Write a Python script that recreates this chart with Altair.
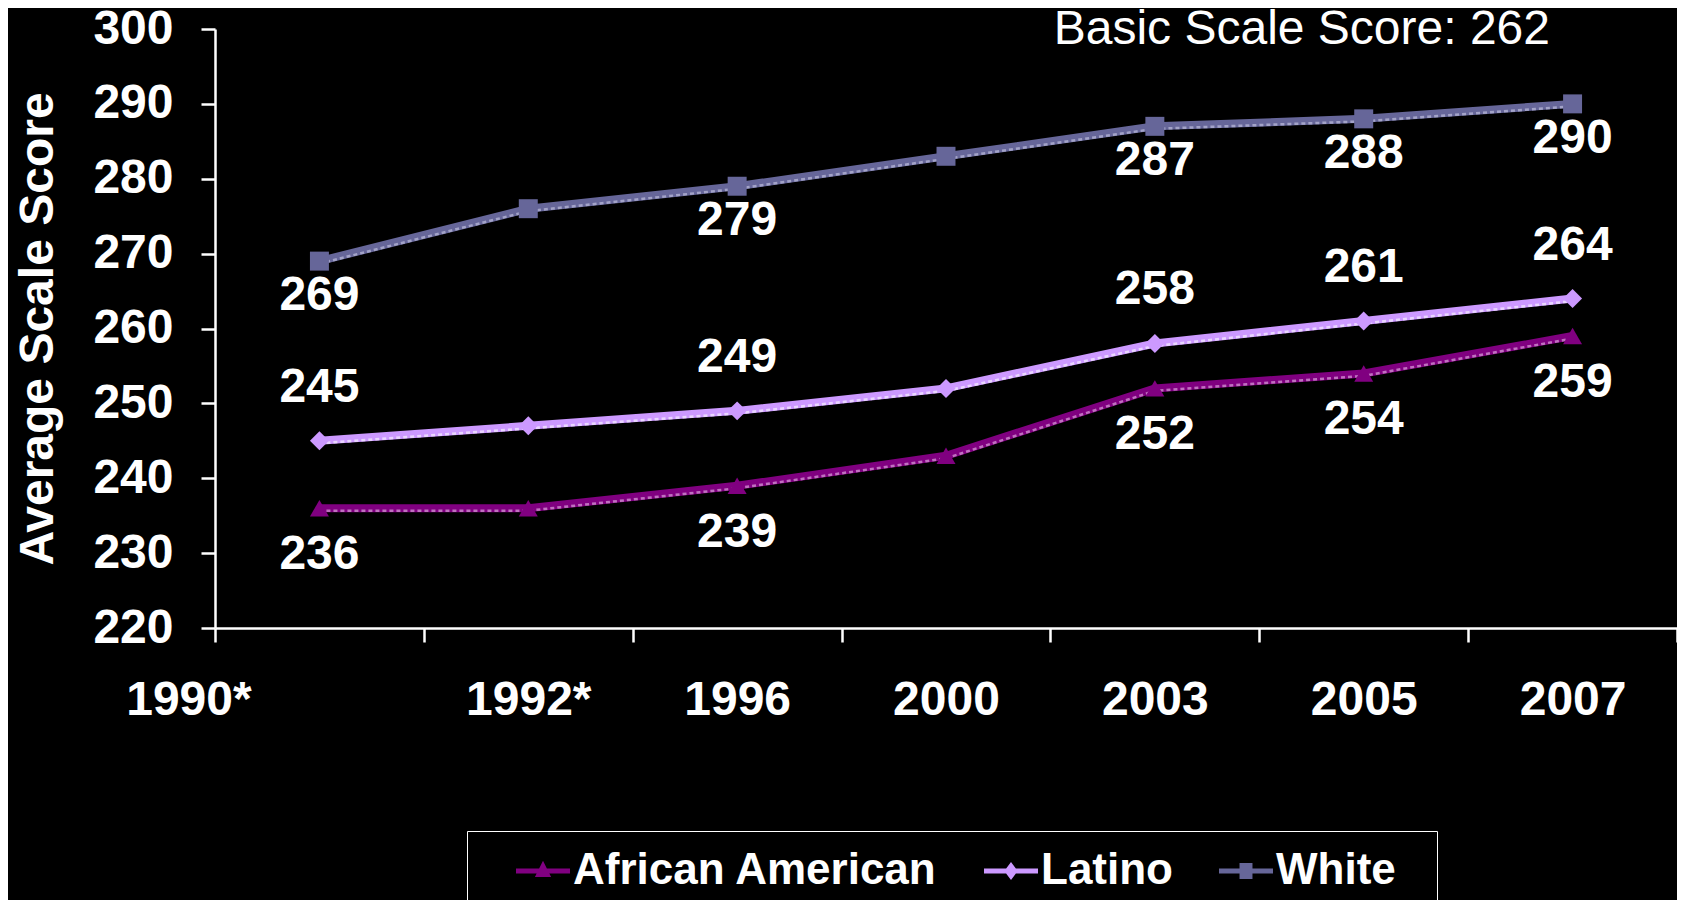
import altair as alt
import pandas as pd

# ---- data ----
years = ["1990*", "1992*", "1996", "2000", "2003", "2005", "2007"]
series = ["African American", "Latino", "White"]
african_american = [236, 236, 239, 243, 252, 254, 259]
latino = [245, 247, 249, 252, 258, 261, 264]
white = [269, 276, 279, 283, 287, 288, 290]
labeled = [True, False, True, False, True, True, True]
colors = ["#800080", "#CC99FF", "#666699"]
highlight_colors = ["#C070C0", "#EAD6FF", "#A3A3C8"]
y_ticks = [220, 230, 240, 250, 260, 270, 280, 290, 300]
note = ["Basic Scale Score: 262"]

rows = []
for s, vals in zip(series, [african_american, latino, white]):
    for yr, v, lab in zip(years, vals, labeled):
        rows.append({"year": yr, "series": s, "marker": s, "score": v, "show": lab})
df = pd.DataFrame(rows)

FONT = "Liberation Sans"
FS = 48

color_scale = alt.Scale(domain=series, range=colors)

x = alt.X(
    "year:N",
    sort=years,
    scale=alt.Scale(domain=years, paddingInner=0, paddingOuter=0),
    axis=alt.Axis(
        title=None, labelAngle=0, tickBand="extent", tickSize=14, tickWidth=2.5,
        tickColor="white", domainColor="white", domainWidth=2.5,
        labelFont=FONT, labelFontSize=FS, labelFontWeight="bold", labelColor="white",
        labelPadding=58, labelBaseline="middle", labelOverlap=False,
        labelOffset={"condition": {"test": "datum.label == '1990*'", "value": -131}, "value": 0},
    ),
)
y = alt.Y(
    "score:Q",
    scale=alt.Scale(domain=[220, 300], nice=False, zero=False),
    axis=alt.Axis(
        values=y_ticks, grid=False, tickSize=14, tickWidth=2.5, tickColor="white",
        domainColor="white", domainWidth=2.5,
        labelFont=FONT, labelFontSize=FS, labelFontWeight="bold", labelColor="white",
        labelPadding=28,
        title="Average Scale Score", titleFont=FONT, titleFontSize=FS,
        titleFontWeight="bold", titleColor="white", titlePadding=30,
    ),
)

base = alt.Chart(df)

lines = base.mark_line(strokeWidth=8).encode(
    x=x, y=y, color=alt.Color("series:N", scale=color_scale, legend=None)
)

# lighter dashed sheen along the lower edge of each line
sheen = base.mark_line(strokeWidth=2.5, strokeDash=[4, 3], yOffset=2.5).encode(
    x=x, y=y,
    color=alt.Color("marker:N", scale=alt.Scale(domain=series, range=highlight_colors), legend=None),
)

points = base.mark_point(filled=True, size=360, opacity=1).encode(
    x=x, y=y,
    color=alt.Color("series:N", scale=color_scale, legend=None),
    shape=alt.Shape("marker:N", scale=alt.Scale(domain=series, range=["triangle-up", "diamond", "square"]), legend=None),
)

def labels(name, dy):
    return base.transform_filter(
        (alt.datum.series == name) & (alt.datum.show == True)
    ).mark_text(
        font=FONT, fontSize=FS, fontWeight="bold", color="white", baseline="middle", dy=dy
    ).encode(x=x, y=y, text=alt.Text("score:Q"))

lab_aa = labels("African American", 47)
lab_la = labels("Latino", -53)
lab_wh = labels("White", 35)

# annotation in the top-right corner
note_layer = alt.Chart(pd.DataFrame({"note": note})).mark_text(
    align="right", baseline="alphabetic", font=FONT, fontSize=48, color="white"
).encode(text="note:N", x=alt.value(1335), y=alt.value(15))

legend_paths = [
    "M-1,-0.09H1V0.09H-1Z M0,-0.38L0.3,0.22H-0.3Z",
    "M-1,-0.09H1V0.09H-1Z M0,-0.33L0.25,0L0,0.33L-0.25,0Z",
    "M-1,-0.09H1V0.09H-1Z M-0.24,-0.3H0.24V0.3H-0.24Z",
]
leg = alt.Legend(
    title=" ", titleOrient="right", titleFontSize=10, titlePadding=23,
    orient="none", legendX=252, legendY=802, direction="horizontal", columns=3,
    labelFont=FONT, labelFontSize=44, labelFontWeight="bold", labelColor="white", labelLimit=0,
    symbolSize=2916, symbolStrokeWidth=0, symbolOpacity=1, padding=18, columnPadding=15,
    symbolOffset=31, labelOffset=3,
    strokeColor="white", fillColor="black", clipHeight=44,
)
legend_layer = base.mark_point(filled=True, opacity=0).encode(
    x=x, y=y,
    color=alt.Color("series:N", scale=color_scale, legend=leg),
    shape=alt.Shape("series:N", scale=alt.Scale(domain=series, range=legend_paths), legend=leg),
)

chart = alt.layer(
    lines, sheen, points, lab_aa, lab_la, lab_wh, note_layer, legend_layer
).resolve_scale(
    color="independent", shape="independent"
).properties(
    width=1462,
    height=599,
    autosize=alt.AutoSizeParams(type="none"),
    padding={"left": 207, "top": 21, "right": 0, "bottom": 272},
    background="black",
).configure_view(stroke=None)

chart.save("out.html", embed_options={"renderer": "svg", "actions": False})
